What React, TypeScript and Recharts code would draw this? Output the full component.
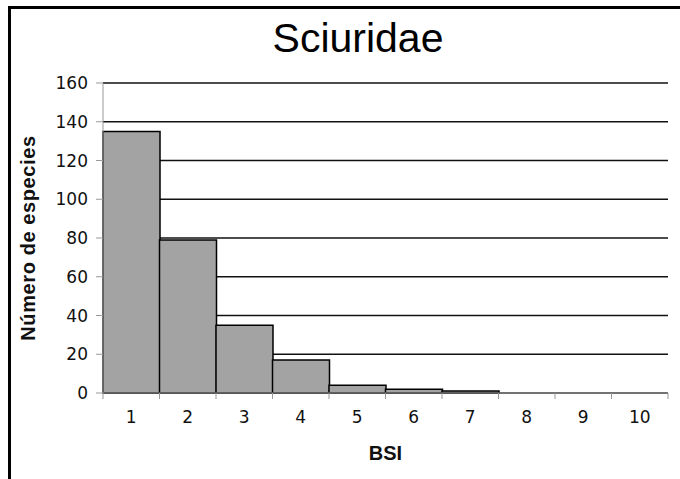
import { BarChart, Bar, XAxis, YAxis, CartesianGrid, Label } from "recharts";

const bsiClasses = ["1", "2", "3", "4", "5", "6", "7", "8", "9", "10"];
const speciesCount = [135, 79, 35, 17, 4, 2, 1, 0, 0, 0];
const yTicks = [0, 20, 40, 60, 80, 100, 120, 140, 160];

const data = bsiClasses.map((bsi, i) => ({ bsi, species: speciesCount[i] }));

const tickFont = { fontFamily: "'DejaVu Sans', Verdana, sans-serif", fontSize: 17, fill: "#111" };
const labelFont = { fontFamily: "'Liberation Sans', Arial, sans-serif", fontSize: 20, fontWeight: 700, fill: "#111" };

// Excel style: tick marks sit between categories, labels in the middle
function XTick(props: any) {
  const { x, y, payload, index, visibleTicksCount, width } = props;
  const half = payload?.offset || (width / visibleTicksCount) / 2;
  const top = y - 6;
  return (
    <g>
      <line x1={x - half} x2={x - half} y1={top} y2={top + 6} stroke="#999" strokeWidth={1} />
      {index === visibleTicksCount - 1 && (
        <line x1={x + half} x2={x + half} y1={top} y2={top + 6} stroke="#999" strokeWidth={1} />
      )}
      <text x={x} y={y + 12} dy="0.71em" textAnchor="middle" {...tickFont}>{payload.value}</text>
    </g>
  );
}

export default function App() {
  return (
    <div style={{ position: "absolute", left: 0, top: 0, width: 680, height: 479, overflow: "hidden", background: "#fff" }}>
      <div style={{
        position: "absolute", left: 8, top: 6, width: 700, height: 471,
        borderLeft: "3px solid #000", borderTop: "3px solid #000", borderBottom: "1px solid #ddd",
      }} />
      <div style={{
        position: "absolute", left: 258, top: 14, width: 200, textAlign: "center",
        fontFamily: "'Liberation Sans', Arial, sans-serif", fontSize: 41, lineHeight: "48px", color: "#000",
      }}>
        Sciuridae
      </div>
      <div style={{ position: "absolute", left: 0, top: 0 }}>
        <BarChart width={680} height={479} data={data} margin={{ top: 83, right: 12, left: 0, bottom: 0 }} barCategoryGap={0}>
          <CartesianGrid vertical={false} stroke="#111" strokeWidth={1.5} />
          <XAxis
            dataKey="bsi"
            height={86}
            tickLine={false}
            tickSize={6}
            tickMargin={0}
            axisLine={{ stroke: "#999" }}
            tick={<XTick />}
            interval={0}
          >
            <Label
              content={(p: any) => {
                const vb = p.viewBox || {};
                return (
                  <text x={vb.x + vb.width / 2} y={vb.y + 67} textAnchor="middle" {...labelFont}>BSI</text>
                );
              }}
            />
          </XAxis>
          <YAxis
            width={103}
            domain={[0, 160]}
            ticks={yTicks}
            interval={0}
            tickSize={7}
            tickMargin={8}
            tickLine={{ stroke: "#999" }}
            axisLine={{ stroke: "#999" }}
            tick={tickFont}
          >
            <Label
              content={(p: any) => {
                const vb = p.viewBox || {};
                const cx = 28;
                const cy = vb.y + vb.height / 2;
                return (
                  <text x={cx} y={cy} transform={`rotate(-90 ${cx} ${cy})`} textAnchor="middle" dominantBaseline="central" {...labelFont} letterSpacing={0.6}>
                    Número de especies
                  </text>
                );
              }}
            />
          </YAxis>
          <YAxis yAxisId="frame" orientation="right" width={0} domain={[0, 160]} tick={false} tickLine={false} axisLine={{ stroke: "#999", strokeWidth: 1.5 }} />
          <Bar dataKey="species" fill="#a3a3a3" stroke="#000" strokeWidth={1.5} isAnimationActive={false} />
        </BarChart>
      </div>
    </div>
  );
}
